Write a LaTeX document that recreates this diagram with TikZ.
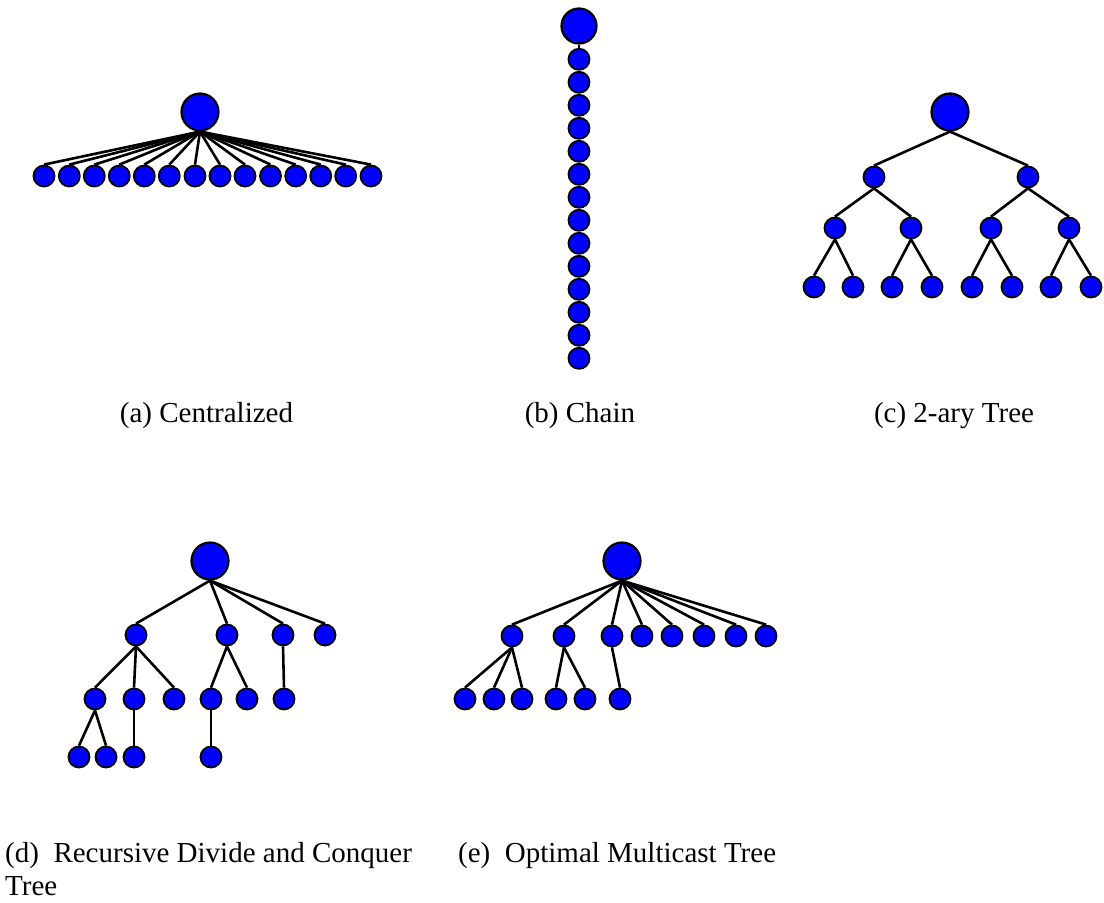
\documentclass[tikz,border=0pt]{standalone}
\usepackage{fontspec}
\setmainfont{Liberation Serif}
\tikzset{
  bignode/.style={circle,draw=black,fill=blue,line width=2.2pt,minimum size=37pt,inner sep=0pt},
  smallnode/.style={circle,draw=black,fill=blue,line width=1.8pt,minimum size=21pt,inner sep=0pt},
  link/.style={line width=2.6pt,black},
  captext/.style={font=\fontsize{29}{33}\selectfont,inner sep=0pt}
}
\begin{document}
\begin{tikzpicture}[x=1pt,y=-1pt]
\useasboundingbox (0,0) rectangle (1104,903);
% ---------- (a) Centralized ----------
\node[bignode] (ar) at (200,112) {};
\foreach \i/\x in {1/44,2/69.3,3/94.3,4/119.3,5/144.3,6/169.3,7/195,8/220,9/245,10/270.5,11/295.7,12/320.7,13/345.7,14/371}{
  \node[smallnode] (a\i) at (\x,176) {};
}
\foreach \i in {1,...,14}{ \draw[link] (ar.south) -- (a\i.north); }
\node[captext,anchor=base] (capa) at (206.5,422) {(a) Centralized};
% ---------- (b) Chain ----------
\node[bignode,minimum size=35pt] (br) at (579,26) {};
\foreach \i in {1,...,14}{
  \node[smallnode] (b\i) at (579,{59.3+(\i-1)*23}) {};
}
\draw[link] (br.south) -- (b1.north);
\foreach \i [evaluate=\i as \j using int(\i+1)] in {1,...,13}{ \draw[link] (b\i.south) -- (b\j.north); }
\node[captext,anchor=base] (capb) at (580,422) {(b) Chain};
% ---------- (c) 2-ary Tree ----------
\node[bignode] (cr) at (950,112) {};
\node[smallnode] (c1) at (874,177) {};
\node[smallnode] (c2) at (1028,177) {};
\node[smallnode] (c11) at (835,228) {};
\node[smallnode] (c12) at (911,228) {};
\node[smallnode] (c21) at (991,228) {};
\node[smallnode] (c22) at (1069,228) {};
\node[smallnode] (c111) at (814,287) {};
\node[smallnode] (c112) at (853,287) {};
\node[smallnode] (c121) at (892,287) {};
\node[smallnode] (c122) at (932,287) {};
\node[smallnode] (c211) at (972,287) {};
\node[smallnode] (c212) at (1012,287) {};
\node[smallnode] (c221) at (1051,287) {};
\node[smallnode] (c222) at (1091,287) {};
\foreach \p/\c in {cr/c1,cr/c2,c1/c11,c1/c12,c2/c21,c2/c22,c11/c111,c11/c112,c12/c121,c12/c122,c21/c211,c21/c212,c22/c221,c22/c222}{
  \draw[link] (\p.south) -- (\c.north);
}
\node[captext,anchor=base] (capc) at (954,422) {(c) 2-ary Tree};
% ---------- (d) Recursive Divide and Conquer Tree ----------
\node[bignode] (dr) at (210,561) {};
\node[smallnode] (d1) at (136,635) {};
\node[smallnode] (d2) at (227,635) {};
\node[smallnode] (d3) at (283,635) {};
\node[smallnode] (d4) at (325,635) {};
\node[smallnode] (d11) at (95,699) {};
\node[smallnode] (d12) at (134,699) {};
\node[smallnode] (d13) at (174,699) {};
\node[smallnode] (d21) at (211,699) {};
\node[smallnode] (d22) at (247,699) {};
\node[smallnode] (d31) at (284,699) {};
\node[smallnode] (d111) at (79,757) {};
\node[smallnode] (d112) at (106,757) {};
\node[smallnode] (d121) at (134,757) {};
\node[smallnode] (d211) at (211,757) {};
\foreach \p/\c in {dr/d1,dr/d2,dr/d3,dr/d4,d1/d11,d1/d12,d1/d13,d2/d21,d2/d22,d3/d31,d11/d111,d11/d112,d12/d121,d21/d211}{
  \draw[link] (\p.south) -- (\c.north);
}
\node[captext,anchor=base west] (capd) at (5,862) {\parbox[t]{410pt}{\raggedright (d)~ Recursive Divide and Conquer\\Tree}};
% ---------- (e) Optimal Multicast Tree ----------
\node[bignode] (er) at (622,561) {};
\foreach \i/\x in {1/512,2/564,3/612,4/642,5/672,6/704,7/736,8/766}{
  \node[smallnode] (e\i) at (\x,636) {};
  \draw[link] (er.south) -- (e\i.north);
}
\node[smallnode] (e11) at (465,699) {};
\node[smallnode] (e12) at (494,699) {};
\node[smallnode] (e13) at (522,699) {};
\node[smallnode] (e21) at (556,699) {};
\node[smallnode] (e22) at (585,699) {};
\node[smallnode] (e31) at (620,699) {};
\foreach \p/\c in {e1/e11,e1/e12,e1/e13,e2/e21,e2/e22,e3/e31}{
  \draw[link] (\p.south) -- (\c.north);
}
\node[captext,anchor=base west] (cape) at (458,862) {(e)~ Optimal Multicast Tree};
\end{tikzpicture}
\end{document}
